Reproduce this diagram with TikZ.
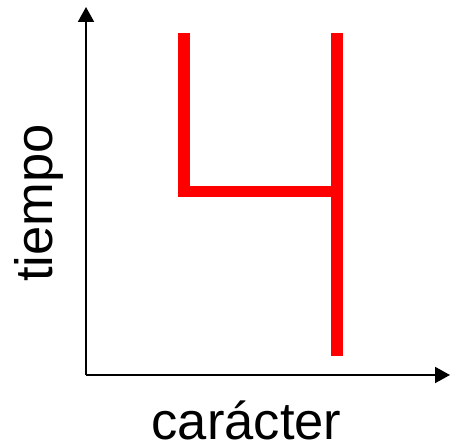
\documentclass[tikz,border=0pt]{standalone}
\usepackage{fontspec}
\setmainfont{Liberation Sans}
\usetikzlibrary{arrows.meta}
\begin{document}
\begin{tikzpicture}[x=1pt,y=1pt,
  axis/.style={line width=2pt,-{Triangle[length=15pt,width=16pt]}},
  redline/.style={draw=red,line width=11.5pt,line cap=butt,line join=miter},
  lbl/.style={font=\fontsize{52.5}{62}\selectfont,inner sep=0pt}]
\useasboundingbox (0,0) rectangle (452,446);
\coordinate (O) at (86,71);
\coordinate (Ytip) at (86,439);
\coordinate (Xtip) at (450,71);
\draw[axis] (O) -- (Ytip);
\draw[axis] (O) -- (Xtip);
\coordinate (A) at (184,413);
\coordinate (B) at (184,254.5);
\coordinate (C) at (337,254.5);
\coordinate (D) at (337,413);
\coordinate (E) at (337,89.5);
\draw[redline] (A) -- (B) -- (C);
\draw[redline] (D) -- (E);
\node[lbl,rotate=90,anchor=base] (t) at (52,243) {tiempo};
\node[lbl,anchor=base] (c) at (246.5,6) {carácter};
\end{tikzpicture}
\end{document}
